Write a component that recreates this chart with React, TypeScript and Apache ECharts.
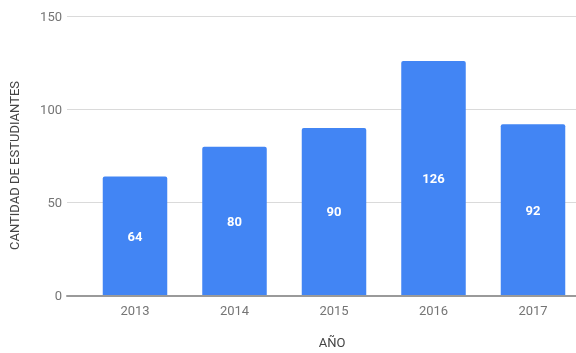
import React, { useEffect, useRef } from "react";
import * as echarts from "echarts";

const years = ["2013", "2014", "2015", "2016", "2017"];
const students = [64, 80, 90, 126, 92];
const yTitle = "CANTIDAD DE ESTUDIANTES";
const xTitle = "AÑO";

export default function App() {
  const ref = useRef<HTMLDivElement>(null);
  useEffect(() => {
    if (!ref.current) return;
    const chart = echarts.init(ref.current, null, { renderer: "svg" });
    const font = "Roboto, Arial, sans-serif";
    chart.setOption({
      animation: false,
      grid: [
        { left: 67, right: 0, top: 16.3, bottom: 57.3, outerBoundsMode: "none", containLabel: false },
        { left: 85.25, width: 497.5, top: 16.3, bottom: 57.3, outerBoundsMode: "none", containLabel: false },
      ],
      xAxis: [
        {
          gridIndex: 0,
          type: "value",
          min: 0,
          max: 1,
          axisLabel: { show: false },
          axisTick: { show: false },
          splitLine: { show: false },
          axisLine: { show: true, lineStyle: { color: "#9a9a9a", width: 2 } },
          z: 5,
        },
        {
          gridIndex: 1,
          type: "category",
          data: years,
          axisLine: { show: false },
          axisTick: { show: false },
          axisLabel: { color: "#757575", fontSize: 13, fontFamily: font, margin: 8 },
        },
      ],
      yAxis: [
        {
          gridIndex: 0,
          type: "value",
          min: 0,
          max: 150,
          interval: 50,
          axisLine: { show: false },
          axisTick: { show: false },
          axisLabel: { color: "#757575", fontSize: 13, fontFamily: font, margin: 5 },
          splitLine: { lineStyle: { color: "#dadada", width: 1 } },
        },
        {
          gridIndex: 1,
          type: "value",
          min: 0,
          max: 150,
          interval: 50,
          show: false,
          splitLine: { show: false },
        },
      ],
      series: [
        {
          type: "bar",
          xAxisIndex: 1,
          yAxisIndex: 1,
          data: students,
          barWidth: 64.5,
          itemStyle: { color: "#4285F4", borderRadius: [2, 2, 0, 0] },
          label: {
            show: true,
            position: "inside",
            color: "#ffffff",
            fontSize: 13,
            fontWeight: "bold",
            fontFamily: font,
          },
          z: 3,
        },
      ],
      graphic: [
        {
          type: "text",
          x: 14.5,
          y: 165.5,
          rotation: Math.PI / 2,
          style: {
            text: yTitle,
            fill: "#444444",
            font: `13px ${font}`,
            align: "center",
            verticalAlign: "middle",
          },
        },
        {
          type: "text",
          x: 332,
          y: 342.7,
          style: {
            text: xTitle,
            fill: "#444444",
            font: `13px ${font}`,
            align: "center",
            verticalAlign: "middle",
          },
        },
      ],
    });
    return () => chart.dispose();
  }, []);
  return (
    <div
      ref={ref}
      style={{ position: "fixed", left: 0, top: 0, width: 576, height: 353 }}
    />
  );
}
